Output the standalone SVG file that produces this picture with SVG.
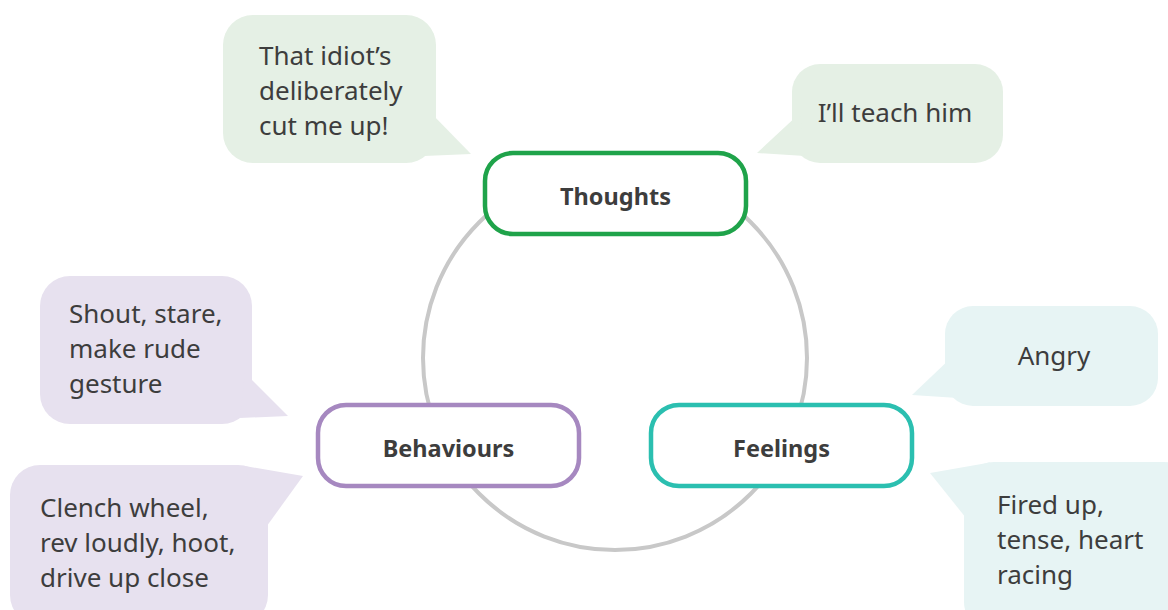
<svg xmlns="http://www.w3.org/2000/svg" width="1168" height="610" viewBox="0 0 1168 610">
<style>
.t{font-family:"Noto Sans","Open Sans",sans-serif;font-size:26px;fill:#3d3d3d}
.b{font-family:"Noto Sans","Open Sans",sans-serif;font-size:23.5px;font-weight:bold;fill:#3d3d3d;text-anchor:middle}
.node{fill:#ffffff;stroke-width:4.5}
.g{fill:#e5f0e5}.p{fill:#e7e1ef}.c{fill:#e7f4f4}
</style>
<rect width="1168" height="610" fill="#ffffff"/>
<g id="connectors">
<circle cx="615" cy="358" r="192" fill="none" stroke="#c8c8c8" stroke-width="4"/>
</g>
<g id="bubble-thought1">
<rect class="g" x="223" y="15" width="213" height="148" rx="30"/>
<polygon class="g" points="430,112 471,154 424,156"/>
<text class="t"><tspan x="259" y="65">That idiot’s</tspan><tspan x="259" y="100">deliberately</tspan><tspan x="259" y="135">cut me up!</tspan></text>
</g>
<g id="bubble-thought2">
<rect class="g" x="792" y="64" width="211" height="99" rx="28"/>
<polygon class="g" points="800,113 757,153 805,156"/>
<text class="t" x="895" y="122" text-anchor="middle">I’ll teach him</text>
</g>
<g id="bubble-behaviour1">
<rect class="p" x="40" y="276" width="212" height="148" rx="30"/>
<polygon class="p" points="245,373 288,416 240,418"/>
<text class="t"><tspan x="69" y="323">Shout, stare,</tspan><tspan x="69" y="358">make rude</tspan><tspan x="69" y="393">gesture</tspan></text>
</g>
<g id="bubble-behaviour2">
<rect class="p" x="10" y="465" width="258" height="160" rx="30"/>
<polygon class="p" points="245,466 303,476 264,530"/>
<text class="t"><tspan x="40" y="517">Clench wheel,</tspan><tspan x="40" y="552">rev loudly, hoot,</tspan><tspan x="40" y="587">drive up close</tspan></text>
</g>
<g id="bubble-feeling1">
<rect class="c" x="945" y="306" width="213" height="100" rx="28"/>
<polygon class="c" points="952,357 912,395 958,398"/>
<text class="t" x="1054" y="365" text-anchor="middle">Angry</text>
</g>
<g id="bubble-feeling2">
<rect class="c" x="964" y="462" width="230" height="170" rx="30"/>
<polygon class="c" points="990,462.5 930,473 966,518"/>
<text class="t"><tspan x="997" y="514">Fired up,</tspan><tspan x="997" y="549">tense, heart</tspan><tspan x="997" y="584">racing</tspan></text>
</g>
<g id="node-thoughts">
<rect class="node" x="485" y="153" width="261" height="81" rx="28" stroke="#1fa34a"/>
<text class="b" x="615.5" y="205">Thoughts</text>
</g>
<g id="node-behaviours">
<rect class="node" x="318" y="405" width="261" height="81" rx="28" stroke="#a688c0"/>
<text class="b" x="448.5" y="457">Behaviours</text>
</g>
<g id="node-feelings">
<rect class="node" x="651" y="405" width="261" height="81" rx="28" stroke="#2bbfb0"/>
<text class="b" x="781.5" y="457">Feelings</text>
</g>
</svg>
